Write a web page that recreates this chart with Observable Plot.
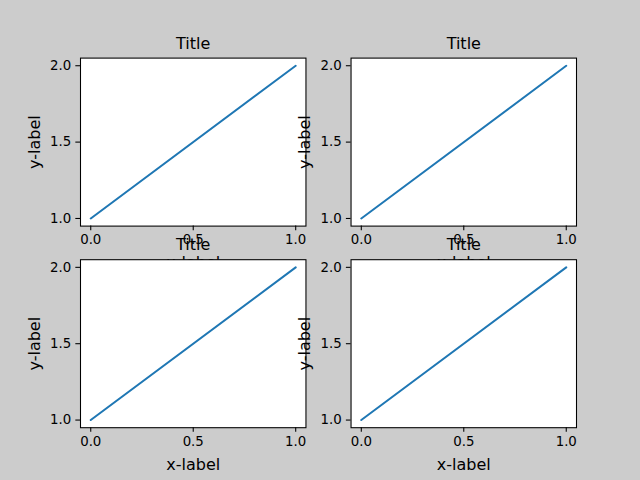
<!DOCTYPE html>
<html><head><meta charset="utf-8">
<script src="https://cdn.jsdelivr.net/npm/d3@7"></script>
<script src="https://cdn.jsdelivr.net/npm/@observablehq/plot@0.6"></script>
<style>
html,body{margin:0;padding:0;background:#cccccc;}
#fig{position:relative;width:640px;height:480px;background:#cccccc;overflow:hidden}
#fig svg{position:absolute;left:0;top:0}
</style></head><body><div id="fig"></div>
<script>
const xValues = [0, 1];
const yValues = [1, 2];
const xTicks = [0, 0.5, 1.0];
const yTicks = [1.0, 1.5, 2.0];
const titleText = "Title";
const xLabel = "x-label";
const yLabel = "y-label";
const data = xValues.map((x, i) => ({x, y: yValues[i]}));

const W = 640, H = 480;
const sp = {left: 0.125, right: 0.9, bottom: 0.11, top: 0.88, wspace: 0.2, hspace: 0.2};
const aw = (sp.right - sp.left) * W / (2 + sp.wspace);
const ah = (sp.top - sp.bottom) * H / (2 + sp.hspace);
const fig = document.getElementById("fig");
const fmt = d3.format(".1f");

for (let r = 0; r < 2; r++) {
  for (let c = 0; c < 2; c++) {
    const x0 = sp.left * W + c * aw * (1 + sp.wspace);
    const y0 = (1 - sp.top) * H + r * ah * (1 + sp.hspace);
    const p = Plot.plot({
      width: W, height: H,
      marginLeft: x0, marginRight: W - x0 - aw, marginTop: y0, marginBottom: H - y0 - ah,
      x: {domain: [-0.05, 1.05]},
      y: {domain: [0.95, 2.05]},
      style: {background: "transparent", fontFamily: "DejaVu Sans", fontSize: "13.33px", color: "black", overflow: "visible"},
      marks: [
        Plot.frame({fill: "white", stroke: null}),
        Plot.line(data, {x: "x", y: "y", stroke: "#1f77b4", strokeWidth: 2}),
        Plot.frame({stroke: "black", strokeWidth: 1.07}),
        Plot.axisX(xTicks, {tickSize: 4.67, tickPadding: 4, tickFormat: fmt, label: null, stroke: "black", strokeWidth: 1.07, fill: "black", fontSize: 13.33}),
        Plot.axisY(yTicks, {tickSize: 4.67, tickPadding: 4.67, tickFormat: fmt, label: null, stroke: "black", strokeWidth: 1.07, fill: "black", fontSize: 13.33}),
        Plot.text([titleText], {text: d => d, frameAnchor: "top", dy: -14.5, lineAnchor: "middle", fontSize: 16, fill: "black"}),
        Plot.text([xLabel], {text: d => d, frameAnchor: "bottom", dy: 37, lineAnchor: "middle", fontSize: 16, fill: "black"}),
        Plot.text([yLabel], {text: d => d, frameAnchor: "left", dx: -46, rotate: -90, textAnchor: "middle", lineAnchor: "middle", fontSize: 16, fill: "black"})
      ]
    });
    fig.appendChild(p);
  }
}
</script></body></html>
